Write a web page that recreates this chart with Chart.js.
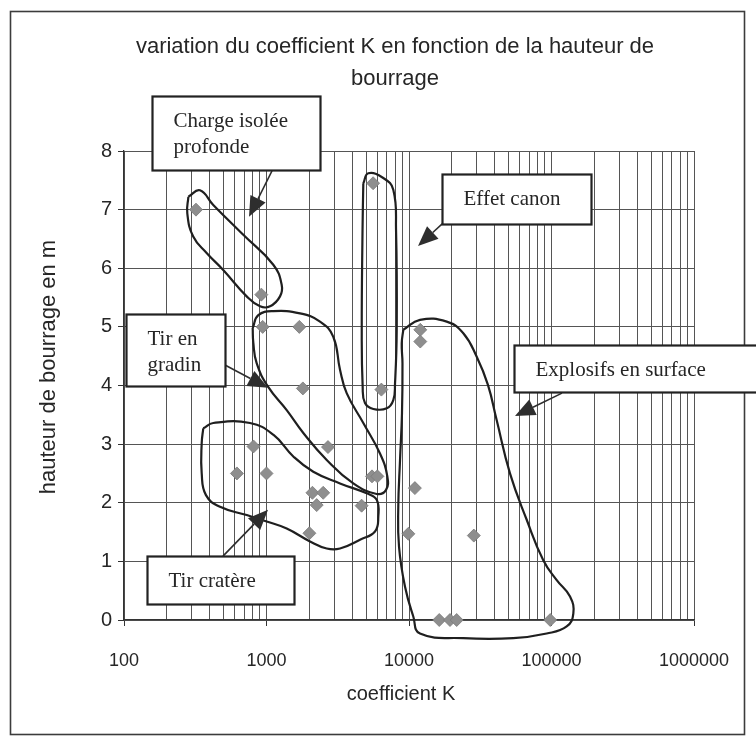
<!DOCTYPE html>
<html>
<head>
<meta charset="utf-8">
<title>Coefficient K</title>
<script src="https://cdn.jsdelivr.net/npm/chart.js@4.4.1/dist/chart.umd.min.js"></script>
<style>
  html, body { margin: 0; padding: 0; background: #fff; }
  #wrap { width: 756px; height: 742px; }
</style>
</head>
<body>
<div id="wrap"><canvas id="kChart" width="756" height="742"></canvas></div>
<script>
// ================= DATA =================
// tirs mesurés : coefficient K (échelle log) / hauteur de bourrage (m)
const kValues = [320, 920, 940, 1700, 5600, 1800, 6400, 12000, 12000,
  810, 620, 1000, 2700, 2100, 2500, 2250, 2000, 4650, 5500, 6000,
  11000, 9900, 28500, 16300, 19400, 21600, 98000];
const hValues = [7.0, 5.55, 5.0, 5.0, 7.45, 3.95, 3.93, 4.95, 4.75,
  2.96, 2.5, 2.5, 2.95, 2.17, 2.17, 1.96, 1.48, 1.95, 2.45, 2.45,
  2.25, 1.47, 1.44, 0, 0, 0, 0];

const xDecades = [100, 1000, 10000, 100000, 1000000];
const yMin = 0, yMax = 8;

const chartTitle = ["variation du coefficient K en fonction de la hauteur de", "bourrage"];
const xTitle = "coefficient K";
const yTitle = "hauteur de bourrage en m";

// zones tracées à la main autour des familles de tirs, en [K, h]
const zoneCharge = [[283, 7.22], [341, 7.33], [423, 7.08], [687, 6.57], [1116, 6.06],
  [1278, 5.72], [1244, 5.52], [1059, 5.35], [900, 5.35], [726, 5.52], [497, 5.97],
  [380, 6.26], [306, 6.54], [278, 6.94]];
const zoneCanon = [[4780, 7.45], [5180, 7.62], [6600, 7.54], [7760, 7.34], [8110, 6.66],
  [8200, 4.95], [7980, 4.04], [7760, 3.75], [6980, 3.61], [5620, 3.60], [4910, 3.70],
  [4730, 3.98], [4660, 4.95], [4720, 6.66]];
const zoneGradin = [[800, 4.98], [876, 5.20], [1116, 5.27], [1718, 5.23], [2374, 5.09],
  [2943, 4.83], [3280, 4.27], [3653, 3.87], [4779, 3.36], [6256, 2.84], [7046, 2.45],
  [6900, 2.22], [5935, 2.15], [4064, 2.33], [2646, 2.73], [1813, 3.19], [1386, 3.58],
  [1025, 3.98], [853, 4.38], [808, 4.73]];
const zoneCratere = [[360, 3.27], [423, 3.36], [766, 3.36], [1116, 3.16], [1542, 2.79],
  [2130, 2.53], [3280, 2.33], [5050, 2.16], [5935, 2.05], [6090, 1.76], [5773, 1.51],
  [4530, 1.37], [3280, 1.22], [2646, 1.22], [2020, 1.34], [1386, 1.56], [1003, 1.68],
  [726, 1.79], [472, 1.93], [376, 2.13], [351, 2.50], [351, 3.02]];
const zoneSurface = [[9120, 4.95], [11940, 5.12], [18400, 5.09], [24050, 4.89], [29870, 4.49],
  [35810, 4.01], [41220, 3.41], [51120, 2.50], [66990, 1.71], [87550, 1.02], [108800, 0.68],
  [134900, 0.40], [142300, 0.11], [127800, -0.11], [92500, -0.23], [53950, -0.31],
  [24050, -0.31], [11940, -0.23], [10720, 0.06], [9370, 0.57], [8510, 1.25], [8410, 1.93],
  [8650, 2.73], [8930, 3.53], [9000, 4.38], [8890, 4.72]];

// étiquettes : texte, coin haut-gauche du cadre, départ et pointe de la flèche (en [K, h])
const noteLabels = [["Charge isolée", "profonde"], ["Effet canon"], ["Tir en", "gradin"],
  ["Explosifs en surface"], ["Tir cratère"]];
const noteBoxAt = [[157, 8.94], [17040, 7.61], [103, 5.22], [54570, 4.69], [145, 1.09]];
const noteArrowFrom = [[1093, 7.66], [17320, 6.77], [511, 4.35], [118500, 3.87], [495, 1.09]];
const noteArrowTo = [[754, 6.88], [11570, 6.38], [1025, 3.96], [55440, 3.48], [1025, 1.88]];

// ================= STYLE =================
const SANS = "'Liberation Sans', Arial, sans-serif";
const SERIF = "'Liberation Serif', 'Times New Roman', serif";
const INK = "#262626";
const GRID = "#555";
const noteBoxSize = [[168, 74], [149, 50], [99, 72], [250, 47], [147, 48]];

// grid lines at 1..9 of every decade
const xGridValues = [];
xDecades.forEach((d, i) => {
  if (i === xDecades.length - 1) { xGridValues.push(d); return; }
  for (let m = 1; m < 10; m++) xGridValues.push(d * m);
});

const toXY = arr => arr.map(([k, h]) => ({ x: k, y: h }));
const closed = arr => toXY(arr.concat([arr[0]]));

function zoneDataset(zone) {
  return {
    data: closed(zone),
    showLine: true,
    borderColor: "#1f1f1f",
    borderWidth: 2.2,
    pointRadius: 0,
    tension: 0.45,
    fill: false,
    clip: false,
    order: 2
  };
}

// ================= PAPER: frame, titles, callouts =================
function drawArrow(ctx, x0, y0, x1, y1) {
  const ang = Math.atan2(y1 - y0, x1 - x0);
  const len = 20, half = 8.5;
  const bx = x1 - Math.cos(ang) * len;
  const by = y1 - Math.sin(ang) * len;
  ctx.beginPath();
  ctx.moveTo(x0, y0);
  ctx.lineTo(bx, by);
  ctx.stroke();
  ctx.beginPath();
  ctx.moveTo(x1, y1);
  ctx.lineTo(bx + Math.sin(ang) * half, by - Math.cos(ang) * half);
  ctx.lineTo(bx - Math.sin(ang) * half, by + Math.cos(ang) * half);
  ctx.closePath();
  ctx.fill();
}

const paperPlugin = {
  id: "paper",
  afterDraw(chart) {
    const { ctx, scales: { x, y } } = chart;
    ctx.save();

    // outer frame
    ctx.strokeStyle = "#3c3c3c";
    ctx.lineWidth = 1.6;
    ctx.strokeRect(10.5, 11.5, 734, 723);

    // chart title + axis titles
    ctx.fillStyle = INK;
    ctx.textAlign = "center";
    ctx.textBaseline = "middle";
    ctx.font = "22px " + SANS;
    ctx.fillText(chartTitle[0], 395, 47);
    ctx.fillText(chartTitle[1], 395, 79);

    ctx.font = "20px " + SANS;
    ctx.fillText(xTitle, 401, 694);

    ctx.save();
    ctx.translate(49, 367);
    ctx.rotate(-Math.PI / 2);
    ctx.font = "22px " + SANS;
    ctx.fillText(yTitle, 0, 0);
    ctx.restore();

    // callouts
    noteLabels.forEach((lines, i) => {
      ctx.strokeStyle = "#2e2e2e";
      ctx.fillStyle = "#2e2e2e";
      ctx.lineWidth = 1.6;
      drawArrow(ctx,
        x.getPixelForValue(noteArrowFrom[i][0]), y.getPixelForValue(noteArrowFrom[i][1]),
        x.getPixelForValue(noteArrowTo[i][0]), y.getPixelForValue(noteArrowTo[i][1]));

      const bx = Math.round(x.getPixelForValue(noteBoxAt[i][0])) + 0.5;
      const by = Math.round(y.getPixelForValue(noteBoxAt[i][1])) + 0.5;
      const [bw, bh] = noteBoxSize[i];
      ctx.fillStyle = "#fff";
      ctx.fillRect(bx, by, bw, bh);
      ctx.strokeStyle = "#222";
      ctx.lineWidth = 2.2;
      ctx.strokeRect(bx, by, bw, bh);

      ctx.fillStyle = INK;
      ctx.font = "21px " + SERIF;
      ctx.textAlign = "left";
      ctx.textBaseline = "middle";
      lines.forEach((t, j) => ctx.fillText(t, bx + 21, by + 25 + j * 26));
    });

    ctx.restore();
  }
};

// ================= CHART =================
new Chart(document.getElementById("kChart"), {
  type: "scatter",
  data: {
    datasets: [
      {
        data: kValues.map((k, i) => ({ x: k, y: hValues[i] })),
        pointStyle: "rectRot",
        pointRadius: 6.5,
        backgroundColor: "#8e8e8e",
        borderColor: "#7a7a7a",
        borderWidth: 0.8,
        clip: false,
        order: 1
      },
      zoneDataset(zoneCharge),
      zoneDataset(zoneCanon),
      zoneDataset(zoneGradin),
      zoneDataset(zoneCratere),
      zoneDataset(zoneSurface)
    ]
  },
  options: {
    responsive: false,
    animation: false,
    events: [],
    layout: { padding: { top: 151, left: 0, right: 62, bottom: 0 } },
    elements: { line: { capBezierPoints: false } },
    plugins: {
      legend: { display: false },
      tooltip: { enabled: false },
      title: { display: false }
    },
    scales: {
      x: {
        type: "logarithmic",
        min: xDecades[0],
        max: xDecades[xDecades.length - 1],
        afterFit: s => { s.height = 122; },
        afterBuildTicks: s => { s.ticks = xGridValues.map(v => ({ value: v })); },
        ticks: {
          autoSkip: false,
          maxRotation: 0,
          padding: 24,
          color: INK,
          font: { family: SANS, size: 18 },
          callback: v => xDecades.includes(v) ? String(v) : ""
        },
        grid: {
          color: GRID,
          lineWidth: 1,
          tickLength: 6,
          tickColor: c => (c.tick && xDecades.includes(c.tick.value)) ? "#333" : "rgba(0,0,0,0)"
        },
        border: { display: true, color: "#333", width: 1.3 },
        title: { display: false }
      },
      y: {
        min: yMin,
        max: yMax,
        afterFit: s => { s.width = 124; },
        ticks: {
          stepSize: 1,
          padding: 6,
          color: INK,
          font: { family: SANS, size: 20 }
        },
        grid: { color: GRID, lineWidth: 1, tickLength: 6, tickColor: "#333" },
        border: { display: true, color: "#333", width: 1.3 },
        title: { display: false }
      }
    }
  },
  plugins: [paperPlugin]
});
</script>
</body>
</html>
